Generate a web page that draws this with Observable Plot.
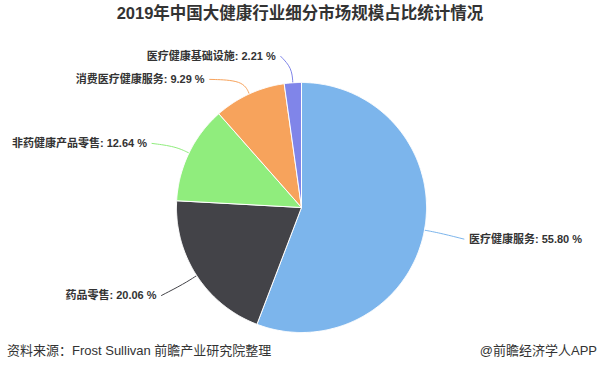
<!DOCTYPE html>
<html>
<head>
<meta charset="utf-8">
<script src="https://cdn.jsdelivr.net/npm/d3@7"></script>
<script src="https://cdn.jsdelivr.net/npm/@observablehq/plot@0.6"></script>
<style>
  html, body { margin: 0; padding: 0; background: #fff; }
  #wrap { width: 600px; height: 384px; position: relative; overflow: hidden; }
  #title { height: 40px; line-height: 40px; text-align: center; font: bold 16.5px "Liberation Sans", "Noto Sans CJK SC", sans-serif; color: #333; }
  #footer { height: 44px; line-height: 42px; position: relative; font: 13px "Liberation Sans", "Noto Sans CJK SC", sans-serif; color: #333; }
  #footer .l { position: absolute; left: 7px; top: 0; }
  #footer .r { position: absolute; right: 3px; top: 0; }
  svg { display: block; }
</style>
</head>
<body>
<div id="wrap">
  <div id="title"></div>
  <div id="chart"></div>
  <div id="footer"><span class="l"></span><span class="r"></span></div>
</div>
<script>
const titleText = "2019年中国大健康行业细分市场规模占比统计情况";
const sourceText = "资料来源：Frost Sullivan 前瞻产业研究院整理";
const creditText = "@前瞻经济学人APP";
const categories = ["医疗健康服务", "药品零售", "非药健康产品零售", "消费医疗健康服务", "医疗健康基础设施"];
const shares = [55.80, 20.06, 12.64, 9.29, 2.21];
const colors = ["#7cb5ec", "#434348", "#90ed7d", "#f7a35c", "#8085e9"];

document.getElementById("title").textContent = titleText;
document.querySelector("#footer .l").textContent = sourceText;
document.querySelector("#footer .r").textContent = creditText;

// layout constants (pixels)
const W = 600, H = 300, cx = 301, cy = 167, R = 125;
const labelDist = 30, gap = 23, hOffset = 10, textPad = 5, yShift = 3.5, elbow = 15;

const total = d3.sum(shares);
let acc = 0;
const slices = categories.map((c, i) => {
  const a0 = acc / total * 2 * Math.PI;
  acc += shares[i];
  const a1 = acc / total * 2 * Math.PI;
  return {category: c, value: shares[i], a0, a1, mid: (a0 + a1) / 2};
});

// slice outlines in units of the radius (y points down)
const arcPts = [];
for (const s of slices) {
  arcPts.push({category: s.category, x: 0, y: 0});
  const n = Math.max(2, Math.ceil((s.a1 - s.a0) / (Math.PI / 360)));
  for (let k = 0; k <= n; k++) {
    const t = s.a0 + (s.a1 - s.a0) * k / n;
    arcPts.push({category: s.category, x: Math.sin(t), y: -Math.cos(t)});
  }
  arcPts.push({category: s.category, x: 0, y: 0});
}

// label placement
const LR = 1 + labelDist / R;
const labels = slices.map(s => ({
  ...s,
  side: Math.sin(s.mid) >= 0 ? 1 : -1,
  ly: -Math.cos(s.mid) * LR
}));
for (const side of [-1, 1]) {
  const grp = labels.filter(d => d.side === side).sort((a, b) => a.ly - b.ly);
  for (let i = 1; i < grp.length; i++) {
    if (grp[i].ly < grp[i - 1].ly + gap / R) grp[i].ly = grp[i - 1].ly + gap / R;
  }
}
for (const d of labels) {
  const dx = Math.sqrt(Math.max(0, LR * LR - d.ly * d.ly));
  d.lx = d.side * (dx + hOffset / R);
  d.yy = d.ly + yShift / R;
  d.tx = d.lx + d.side * textPad / R;
  d.text = `${d.category}: ${d.value.toFixed(2)} %`;
}
const connectors = [];
for (const d of labels) {
  const ex = Math.sin(d.mid), ey = -Math.cos(d.mid);
  const e = 1 + elbow / R;
  connectors.push({category: d.category, x: d.lx, y: d.yy});
  connectors.push({category: d.category, x: ex * e, y: ey * e});
  connectors.push({category: d.category, x: ex, y: ey});
}

const font = '"Liberation Sans", "Noto Sans CJK SC", sans-serif';
const chart = Plot.plot({
  width: W,
  height: H,
  margin: 0,
  style: {fontFamily: font, background: "transparent", overflow: "visible"},
  x: {domain: [-cx / R, (W - cx) / R], range: [0, W], axis: null},
  y: {domain: [-cy / R, (H - cy) / R], range: [0, H], axis: null},
  color: {domain: categories, range: colors},
  marks: [
    Plot.line(connectors, {x: "x", y: "y", z: "category", stroke: "category", strokeWidth: 1, curve: "basis"}),
    Plot.line(arcPts, {x: "x", y: "y", z: "category", fill: "category", stroke: "white", strokeWidth: 1, strokeLinejoin: "round", curve: "linear"}),
    Plot.text(labels.filter(d => d.side < 0), {x: "tx", y: "yy", text: "text", textAnchor: "end", fontSize: 11, fontWeight: "bold", fill: "#333"}),
    Plot.text(labels.filter(d => d.side > 0), {x: "tx", y: "yy", text: "text", textAnchor: "start", fontSize: 11, fontWeight: "bold", fill: "#333"})
  ]
});
document.getElementById("chart").appendChild(chart);
</script>
</body>
</html>
